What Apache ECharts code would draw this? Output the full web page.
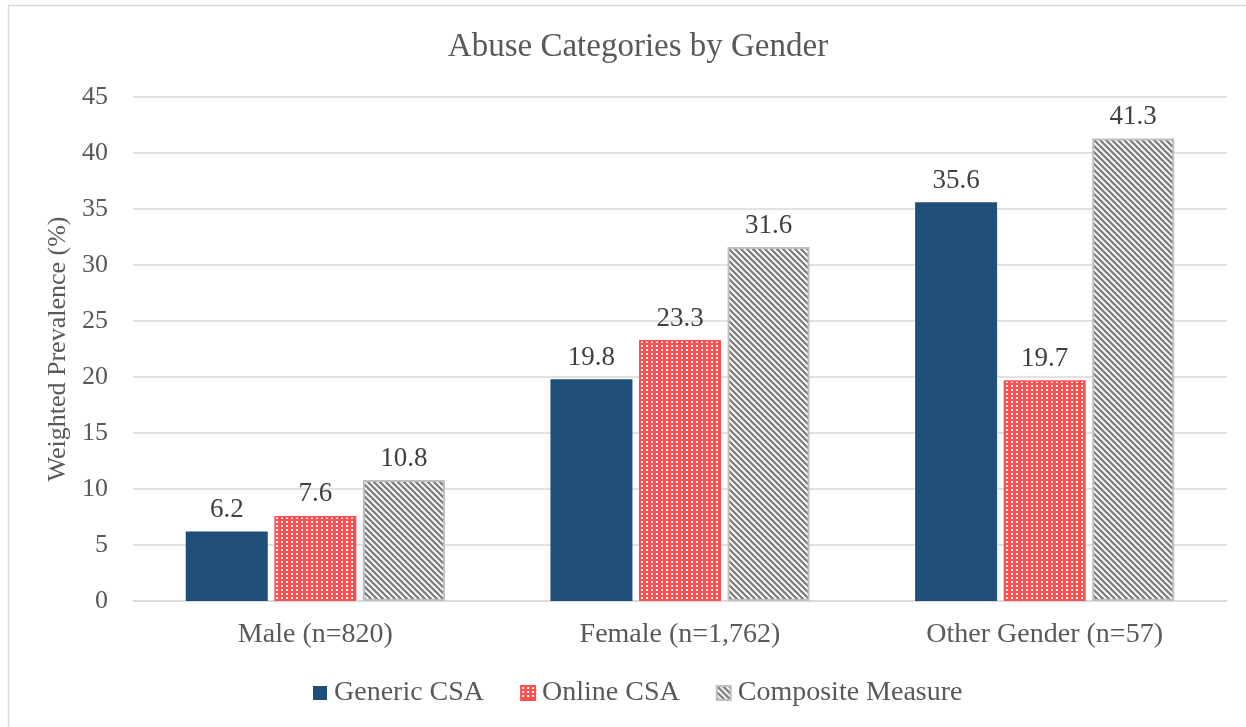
<!DOCTYPE html>
<html><head><meta charset="utf-8">
<script src="https://cdn.jsdelivr.net/npm/echarts@6/dist/echarts.min.js"></script>
<style>html,body{margin:0;padding:0;background:#fff}#c{width:1246px;height:727px}</style>
</head><body><div id="c"></div>
<script>
const categories = ['Male (n=820)', 'Female (n=1,762)', 'Other Gender (n=57)'];
const seriesNames = ['Generic CSA', 'Online CSA', 'Composite Measure'];
const genericCSA = [6.2, 19.8, 35.6];
const onlineCSA = [7.6, 23.3, 19.7];
const compositeMeasure = [10.8, 31.6, 41.3];

function dotPattern() {
  const c = document.createElement('canvas'); c.width = 5; c.height = 4;
  const g = c.getContext('2d');
  g.fillStyle = '#ff4f4f'; g.fillRect(0, 0, 5, 4);
  g.fillStyle = '#ffffff'; g.fillRect(1, 1, 2, 2);
  return c;
}
function stripePattern() {
  const s = 6;
  const c = document.createElement('canvas'); c.width = s; c.height = s;
  const g = c.getContext('2d');
  g.fillStyle = '#ffffff'; g.fillRect(0, 0, s, s);
  g.strokeStyle = '#7f7f7f'; g.lineWidth = 2.3;
  g.beginPath();
  for (let k = -1; k <= 1; k++) { g.moveTo(k * s - 1, -1); g.lineTo(k * s + s + 1, s + 1); }
  g.stroke();
  return c;
}

const chart = echarts.init(document.getElementById('c'), null, {renderer: 'canvas'});
const font = '"Liberation Serif", "Times New Roman", serif';
const labelCfg = {show: true, position: 'top', distance: 8, fontFamily: font, fontSize: 27, color: '#404040'};
chart.setOption({
  animation: false,
  backgroundColor: '#fff',
  graphic: [{type: 'rect', shape: {x: 8.5, y: 5.5, width: 1260, height: 740}, style: {fill: 'none', stroke: '#d9d9d9', lineWidth: 1.5}}],
  title: {text: 'Abuse Categories by Gender', left: 633, top: 26, textAlign: 'center',
    textStyle: {fontFamily: font, fontSize: 33, fontWeight: 'normal', color: '#595959'}},
  legend: {data: seriesNames, left: 308, top: 674, icon: 'rect', itemWidth: 14, itemHeight: 14, itemGap: 36,
    textStyle: {fontFamily: font, fontSize: 28, color: '#595959', padding: [0, 0, 0, 2]}},
  grid: {left: 133, right: 19, top: 97, bottom: 126, containLabel: false},
  xAxis: {type: 'category', data: categories,
    axisLine: {lineStyle: {color: '#d9d9d9', width: 1.5}}, axisTick: {show: false},
    axisLabel: {fontFamily: font, fontSize: 28, color: '#595959', margin: 20}},
  yAxis: {type: 'value', min: 0, max: 45, interval: 5,
    name: 'Weighted Prevalence (%)', nameLocation: 'middle', nameGap: 58, nameRotate: 90,
    nameTextStyle: {fontFamily: font, fontSize: 26, color: '#595959'},
    axisLine: {show: false}, axisTick: {show: false},
    axisLabel: {fontFamily: font, fontSize: 26, color: '#595959', margin: 25},
    splitLine: {lineStyle: {color: '#d9d9d9', width: 1.5}}},
  series: [
    {name: seriesNames[0], type: 'bar', data: genericCSA, barWidth: 82, barGap: '8%',
      itemStyle: {color: '#1f4e79'}, label: labelCfg},
    {name: seriesNames[1], type: 'bar', data: onlineCSA, barWidth: 82, barGap: '8%',
      itemStyle: {color: {image: dotPattern(), repeat: 'repeat'}, borderColor: '#ff4f4f', borderWidth: 1.5}, label: labelCfg},
    {name: seriesNames[2], type: 'bar', data: compositeMeasure, barWidth: 82, barGap: '8%',
      itemStyle: {color: {image: stripePattern(), repeat: 'repeat'}, borderColor: '#bfbfbf', borderWidth: 2}, label: labelCfg}
  ]
});
</script></body></html>
